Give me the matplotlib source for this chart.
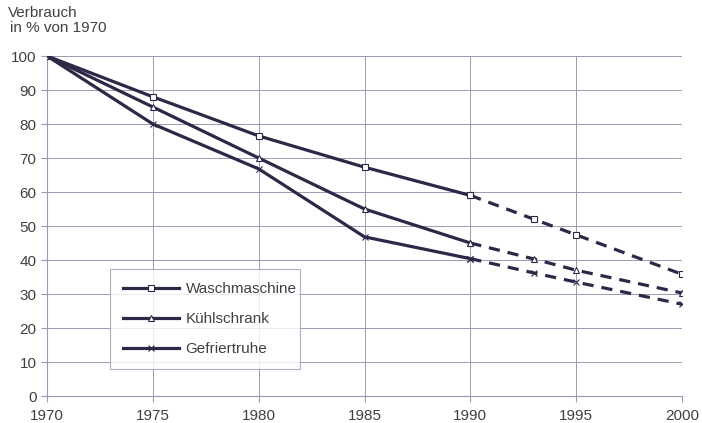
import matplotlib

matplotlib.use("Agg", force=True)
import matplotlib.pyplot as plt
from matplotlib.lines import Line2D

plt.rcParams["font.family"] = ["Liberation Sans", "DejaVu Sans"]

years = [1970, 1975, 1980, 1985, 1990, 1993, 1995, 2000]
waschmaschine = [100, 88, 76.5, 67.3, 59, 52, 47.4, 35.8]
kuehlschrank = [100, 85, 70, 55, 45, 40.3, 37, 30.3]
gefriertruhe = [100, 80, 66.8, 46.8, 40.4, 36.2, 33.5, 27]
labels = ["Waschmaschine", "Kühlschrank", "Gefriertruhe"]
markers = ["s", "^", "x"]
split_year = 1990

line_color = "#2c2946"
grid_color = "#9a9ab4"
text_color = "#404040"

fig = plt.figure(figsize=(7.02, 4.23), dpi=100)
ax = fig.add_axes([0.067, 0.0638, 0.9045, 0.8038])

series = [waschmaschine, kuehlschrank, gefriertruhe]
k = years.index(split_year)
for vals, m in zip(series, markers):
    mkw = dict(marker=m, markersize=5, markerfacecolor="white",
               markeredgecolor=line_color, markeredgewidth=0.8)
    # solid up to 1990, dashed (forecast) afterwards
    ax.plot(years[:k + 1], vals[:k + 1], color=line_color, lw=2.3,
            solid_capstyle="butt", zorder=3, **mkw)
    ax.plot(years[k:], vals[k:], color=line_color, lw=2.3,
            linestyle=(0, (3.5, 2.5)), zorder=3, **mkw)

ax.set_xlim(1970, 2000)
ax.set_ylim(0, 100)
ax.set_xticks(range(1970, 2001, 5))
ax.set_yticks(range(0, 101, 10))
ax.grid(True, color=grid_color, lw=0.7)
ax.set_axisbelow(True)
for side in ["top", "right"]:
    ax.spines[side].set_visible(False)
for side in ["left", "bottom"]:
    ax.spines[side].set_color(grid_color)
    ax.spines[side].set_linewidth(0.8)
ax.tick_params(axis="both", colors=grid_color, length=4, width=0.8,
               labelcolor=text_color, labelsize=11)
ax.tick_params(axis="x", pad=5)

fig.text(0.012, 0.97, "Verbrauch", fontsize=11, color=text_color, va="center")
fig.text(0.014, 0.934, "in % von 1970", fontsize=11, color=text_color, va="center")

handles = [Line2D([0], [0], color=line_color, lw=2.3, marker=m, markersize=5,
                  markerfacecolor="white", markeredgecolor=line_color,
                  markeredgewidth=0.8) for m in markers]
leg = ax.legend(handles, labels, loc="lower left",
                bbox_to_anchor=(0.099, 0.079, 0.3, 0.291), mode="expand",
                borderaxespad=0, fontsize=11, frameon=True, fancybox=False,
                handlelength=3.7, handletextpad=0.4, labelspacing=1.05,
                borderpad=0.85, labelcolor=text_color)
leg.get_frame().set_edgecolor(grid_color)
leg.get_frame().set_linewidth(0.8)

fig.savefig("out.png", dpi=100)
